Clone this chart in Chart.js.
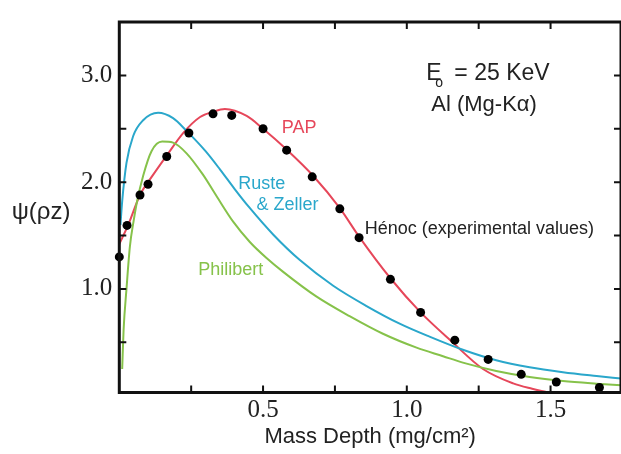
<!DOCTYPE html>
<html>
<head>
<meta charset="utf-8">
<script src="https://cdn.jsdelivr.net/npm/chart.js@4"></script>
<style>
  html, body { margin: 0; padding: 0; background: #ffffff; }
  #wrap { width: 621px; height: 454px; }
</style>
</head>
<body>
<div id="wrap"><canvas id="c" width="621" height="454"></canvas></div>
<script>
// ---- Data ----
// PAP model (red)
const papX = [0, 0.031, 0.072, 0.118, 0.165, 0.222, 0.281, 0.327, 0.367, 0.443, 0.50, 0.582, 0.674, 0.767, 0.834, 0.943, 1.048, 1.155, 1.265, 1.37, 1.436, 1.485];
const papY = [1.42, 1.60, 1.88, 2.07, 2.25, 2.46, 2.61, 2.66, 2.685, 2.62, 2.50, 2.305, 2.06, 1.757, 1.49, 1.10, 0.78, 0.51, 0.25, 0.115, 0.065, 0.035];
// Ruste & Zeller model (blue)
const rzX = [0.004, 0.01, 0.025, 0.048, 0.083, 0.135, 0.187, 0.234, 0.30, 0.35, 0.40, 0.45, 0.535, 0.628, 0.744, 0.86, 0.975, 1.079, 1.195, 1.311, 1.427, 1.543, 1.66, 1.745];
const rzY = [1.60, 1.82, 2.18, 2.43, 2.58, 2.65, 2.60, 2.48, 2.29, 2.12, 1.94, 1.77, 1.51, 1.27, 1.03, 0.84, 0.675, 0.553, 0.43, 0.332, 0.266, 0.22, 0.184, 0.16];
// Philibert model (green)
const phX = [0.010, 0.015, 0.025, 0.037, 0.05, 0.061, 0.083, 0.112, 0.149, 0.187, 0.234, 0.291, 0.338, 0.396, 0.454, 0.512, 0.57, 0.685, 0.801, 0.917, 1.034, 1.126, 1.195, 1.311, 1.427, 1.543, 1.66, 1.745];
const phY = [0.25, 0.62, 1.0, 1.40, 1.64, 1.81, 2.06, 2.29, 2.38, 2.37, 2.27, 2.07, 1.87, 1.63, 1.44, 1.29, 1.16, 0.93, 0.745, 0.58, 0.45, 0.37, 0.31, 0.232, 0.176, 0.138, 0.113, 0.098];
// Hénoc experimental values (black dots)
const henX = [0.0, 0.027, 0.072, 0.10, 0.165, 0.242, 0.326, 0.391, 0.50, 0.582, 0.671, 0.767, 0.834, 0.943, 1.048, 1.167, 1.283, 1.398, 1.520, 1.670];
const henY = [1.30, 1.595, 1.88, 1.98, 2.24, 2.46, 2.64, 2.625, 2.50, 2.30, 2.05, 1.75, 1.48, 1.09, 0.78, 0.52, 0.34, 0.20, 0.128, 0.077];

// Axis ticks
const xTickVals = [0.25, 0.5, 0.75, 1.0, 1.25, 1.5];
const xTickLabels = ['', '0.5', '', '1.0', '', '1.5'];
const yTickVals = [0.5, 1.0, 1.5, 2.0, 2.5, 3.0];
const yTickLabels = ['', '1.0', '', '2.0', '', '3.0'];

// Texts
const xTitle = 'Mass Depth (mg/cm\u00B2)';
const yTitle = '\u03C8(\u03C1z)';
const seriesNames = ['PAP', 'Ruste', '& Zeller', 'Philibert', 'H\u00E9noc (experimental values)'];
const condLine1 = ['E', 'o', '= 25 KeV'];
const condLine2 = 'Al (Mg-K\u03B1)';

const zip = (xs, ys) => xs.map((x, i) => ({ x: x, y: ys[i] }));

const SANS = '"Liberation Sans", Arial, Helvetica, sans-serif';
const SERIF = '"Liberation Serif", "Times New Roman", Times, serif';

const RED = '#e6475a';
const BLUE = '#2aa7cb';
const GREEN = '#86c24a';

// Frame + inward tick marks on all four sides
const framePlugin = {
  id: 'frame',
  afterDraw(chart) {
    const { ctx, chartArea: a, scales } = chart;
    const x = scales.x, y = scales.y;
    ctx.save();
    ctx.strokeStyle = '#111';
    ctx.lineWidth = 2;
    const L = 7;
    ctx.beginPath();
    x.ticks.forEach(t => {
      const px = x.getPixelForValue(t.value);
      ctx.moveTo(px, a.bottom); ctx.lineTo(px, a.bottom - L);
      ctx.moveTo(px, a.top); ctx.lineTo(px, a.top + L);
    });
    y.ticks.forEach(t => {
      const py = y.getPixelForValue(t.value);
      ctx.moveTo(a.left, py); ctx.lineTo(a.left + L, py);
      ctx.moveTo(a.right, py); ctx.lineTo(a.right - L, py);
    });
    ctx.stroke();
    ctx.lineWidth = 3;
    ctx.strokeRect(a.left, a.top, a.right - a.left, a.bottom - a.top);
    ctx.restore();
  }
};

// Labels inside the plot (positioned in data coordinates) + horizontal y title
const labelPlugin = {
  id: 'labels',
  afterDraw(chart) {
    const { ctx, scales } = chart;
    const x = scales.x, y = scales.y;
    const put = (txt, dx, dy, color, size) => {
      ctx.fillStyle = color;
      ctx.font = size + 'px ' + SANS;
      ctx.fillText(txt, x.getPixelForValue(dx), y.getPixelForValue(dy));
    };
    ctx.save();
    ctx.textAlign = 'left';
    ctx.textBaseline = 'alphabetic';
    // E_o = 25 KeV
    const ex = x.getPixelForValue(1.068), ey = y.getPixelForValue(2.959);
    ctx.fillStyle = '#222';
    ctx.font = '23px ' + SANS;
    ctx.fillText(condLine1[0], ex, ey);
    ctx.font = '14px ' + SANS;
    ctx.fillText(condLine1[1], ex + 9, ey + 7);
    ctx.font = '23px ' + SANS;
    ctx.fillText(condLine1[2], ex + 28, ey);
    put(condLine2, 1.085, 2.670, '#222', 22);
    put(seriesNames[0], 0.565, 2.457, RED, 18);
    put(seriesNames[1], 0.414, 1.940, BLUE, 18);
    put(seriesNames[2], 0.477, 1.742, BLUE, 18);
    put(seriesNames[3], 0.2745, 1.132, GREEN, 18);
    put(seriesNames[4], 0.854, 1.513, '#222', 18);
    // y-axis title, horizontal
    ctx.fillStyle = '#222';
    ctx.font = '24px ' + SANS;
    ctx.textAlign = 'center';
    ctx.textBaseline = 'middle';
    ctx.fillText(yTitle, 41, y.getPixelForValue(1.714));
    ctx.restore();
  }
};

const lineDs = (label, xs, ys, color) => ({
  type: 'line',
  label: label,
  data: zip(xs, ys),
  borderColor: color,
  backgroundColor: color,
  borderWidth: 2,
  pointRadius: 0,
  fill: false,
  cubicInterpolationMode: 'monotone',
  order: 2
});

new Chart(document.getElementById('c'), {
  type: 'scatter',
  data: {
    datasets: [
      lineDs('Philibert', phX, phY, GREEN),
      lineDs('Ruste & Zeller', rzX, rzY, BLUE),
      lineDs('PAP', papX, papY, RED),
      {
        type: 'scatter',
        label: 'Hénoc (experimental values)',
        data: zip(henX, henY),
        pointRadius: 4.5,
        pointBackgroundColor: '#000',
        pointBorderWidth: 0,
        clip: false,
        order: 1
      }
    ]
  },
  options: {
    responsive: false,
    animation: false,
    devicePixelRatio: 1,
    layout: { autoPadding: false, padding: { top: 12, right: 0, left: 0, bottom: 0 } },
    plugins: { legend: { display: false }, tooltip: { enabled: false }, title: { display: false } },
    scales: {
      x: {
        type: 'linear',
        min: 0,
        max: 1.745,
        afterBuildTicks: s => { s.ticks = xTickVals.map(v => ({ value: v })); },
        afterFit: s => { s.height = 61.5; },
        grid: { display: false, drawTicks: false },
        border: { display: false },
        ticks: {
          autoSkip: false,
          maxRotation: 0,
          padding: 3,
          color: '#222',
          font: { family: SERIF, size: 25 },
          callback: (v, i) => xTickLabels[i]
        },
        title: {
          display: true,
          text: xTitle,
          color: '#222',
          font: { family: SANS, size: 22 },
          padding: { top: 0, bottom: 4 }
        }
      },
      y: {
        type: 'linear',
        min: 0.03,
        max: 3.5,
        afterBuildTicks: s => { s.ticks = yTickVals.map(v => ({ value: v })); },
        afterFit: s => { s.width = 119.3; },
        grid: { display: false, drawTicks: false },
        border: { display: false },
        ticks: {
          autoSkip: false,
          padding: 7,
          color: '#222',
          font: { family: SERIF, size: 25 },
          callback: (v, i) => yTickLabels[i]
        }
      }
    }
  },
  plugins: [framePlugin, labelPlugin]
});
</script>
</body>
</html>
